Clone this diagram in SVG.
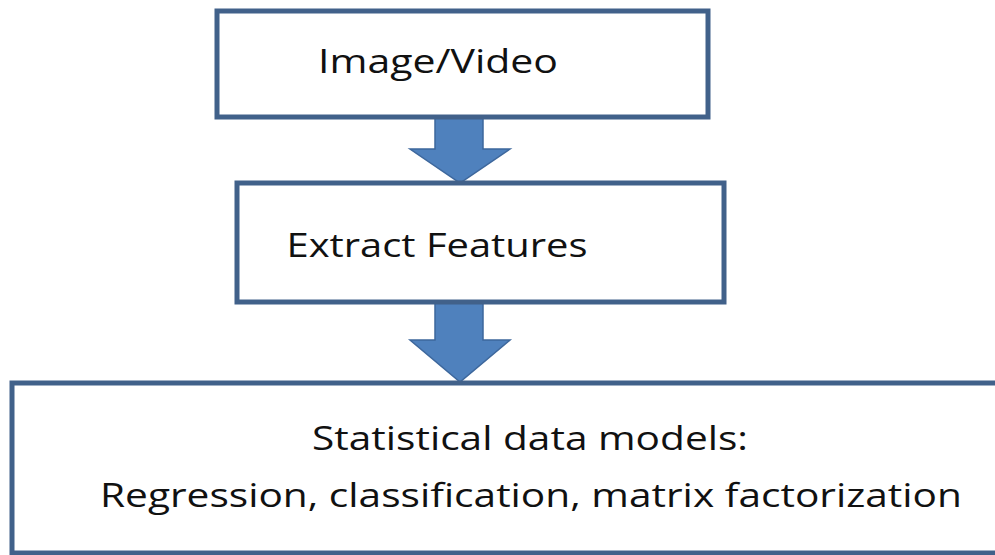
<svg xmlns="http://www.w3.org/2000/svg" width="995" height="555" viewBox="0 0 995 555">
<style>
.box{fill:#ffffff;stroke:#41618a;stroke-width:5}
.lbl{font-family:"Open Sans","Liberation Sans",Arial,sans-serif;font-size:33px;fill:#111111;text-anchor:middle}
.arr{fill:#4f81bd;stroke:#3d679c;stroke-width:1.5;stroke-linejoin:miter}
</style>
<rect width="995" height="555" fill="#ffffff"/>
<g id="connectors">
<path class="arr" d="M435,117 L483,117 L483,149 L510,149 L460,183 L410,149 L435,149 Z"/>
<path class="arr" d="M435,302 L483,302 L483,340 L510,340 L460,382 L410,340 L435,340 Z"/>
</g>
<g id="node-image">
<rect class="box" x="217" y="11" width="491" height="106"/>
<text class="lbl" x="438" y="73" textLength="240" lengthAdjust="spacingAndGlyphs">Image/Video</text>
</g>
<g id="node-extract">
<rect class="box" x="237" y="183" width="487" height="119"/>
<text class="lbl" x="437" y="257" textLength="301" lengthAdjust="spacingAndGlyphs">Extract Features</text>
</g>
<g id="node-stats">
<rect class="box" x="12" y="383" width="1000" height="170"/>
<text class="lbl" x="530" y="450" textLength="436" lengthAdjust="spacingAndGlyphs">Statistical data models:</text>
<text class="lbl" x="531" y="507" textLength="862" lengthAdjust="spacingAndGlyphs">Regression, classification, matrix factorization</text>
</g>
</svg>
